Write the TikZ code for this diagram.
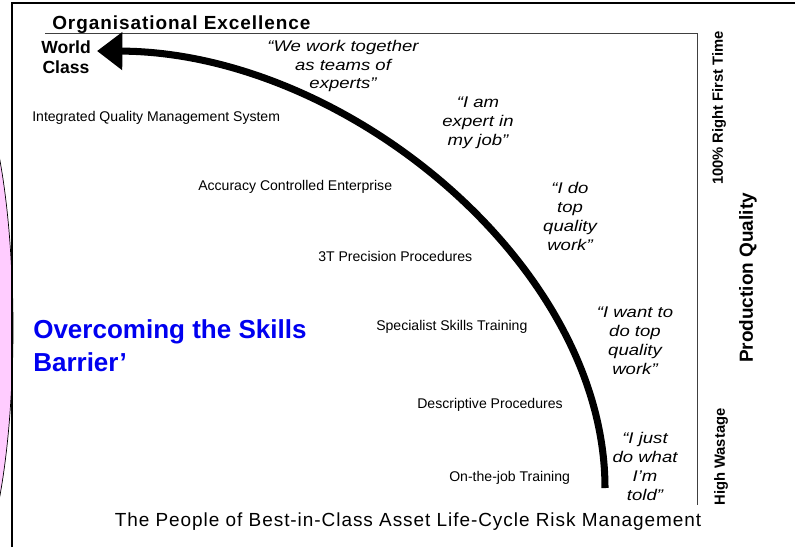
\documentclass[tikz,border=0pt]{standalone}
\usepackage{fontspec}
\setmainfont{Liberation Sans}
\newfontfamily\quotefont[FakeStretch=1.2]{Liberation Sans}
\newfontfamily\spacedfont[LetterSpace=5]{Liberation Sans}
\usetikzlibrary{arrows.meta}
\definecolor{barrierpink}{RGB}{255,204,255}
\definecolor{barrierblue}{RGB}{0,0,240}

\begin{document}
\begin{tikzpicture}[
    x=0.025cm, y=-0.025cm,
    stage/.style={anchor=west, inner sep=0pt, font=\fontsize{10}{12}\selectfont},
    saying/.style={align=center, inner sep=0pt, font=\quotefont\itshape\fontsize{11}{13.5}\selectfont},
    axislabel/.style={rotate=90, inner sep=0pt, font=\bfseries\fontsize{10.5}{12}\selectfont},
    frame/.style={draw=black!75, line width=0.7pt},
    climb/.style={line width=5pt, -{Triangle[length=18pt, width=26pt]}}
  ]
    \useasboundingbox (0,0) rectangle (795,547);
    \clip (0,0) rectangle (795,547);

    \draw[fill=barrierpink, line width=0.5pt] (-40,328) ellipse [x radius=53, y radius=255];
    \draw[line width=1.2pt] (12,547) -- (12,3) -- (795,3);
    \draw[frame] (45,33) -- (697,33) -- (697,505);

    \node[anchor=base west, inner sep=0pt, font=\spacedfont\bfseries\fontsize{13.5}{16}\selectfont] (excellence) at (52,29) {Organisational Excellence};
    \node[align=center, inner sep=0pt, font=\bfseries\fontsize{12.5}{14.2}\selectfont] (world) at (66,57) {World\\Class};

    \node[stage] (iqms) at (32,118) {Integrated Quality Management System};
    \node[stage] (ace) at (198,187) {Accuracy Controlled Enterprise};
    \node[stage] (precision) at (318,256) {3T Precision Procedures};
    \node[stage] (specialist) at (376,327) {Specialist Skills Training};
    \node[stage] (descriptive) at (417,405) {Descriptive Procedures};
    \node[stage] (onthejob) at (449,478) {On-the-job Training};

    \node[saying] (teams) at (343,66) {“We work together\\as teams of\\experts”};
    \node[saying] (expert) at (478,123) {“I am\\expert in\\my job”};
    \node[saying] (topwork) at (570,216) {“I do\\top\\quality\\work”};
    \node[saying] (wantto) at (635,341) {“I want to\\do top\\quality\\work”};
    \node[saying] (told) at (645,466) {“I just\\do what\\I’m\\told”};

    \node[anchor=west, align=left, inner sep=0pt, text=barrierblue, font=\bfseries\fontsize{18.5}{23.5}\selectfont] (barrier) at (33,346) {Overcoming the Skills\\Barrier’};

    \node[inner sep=0pt, font=\spacedfont\fontsize{13.5}{16}\selectfont] (people) at (408,522) {The People of Best-in-Class Asset Life-Cycle Risk Management};

    \node[axislabel] (rightfirst) at (719,108) {100\% Right First Time};
    \node[axislabel, font=\bfseries\fontsize{13.5}{16}\selectfont] (quality) at (748,278) {Production Quality};
    \node[axislabel] (wastage) at (721,457) {High Wastage};

    \coordinate (start) at (605,488);
    \coordinate (tip) at (97,51);
    \draw[climb] (start) .. controls (605,265) and (345,52) .. (tip);
\end{tikzpicture}
\end{document}
